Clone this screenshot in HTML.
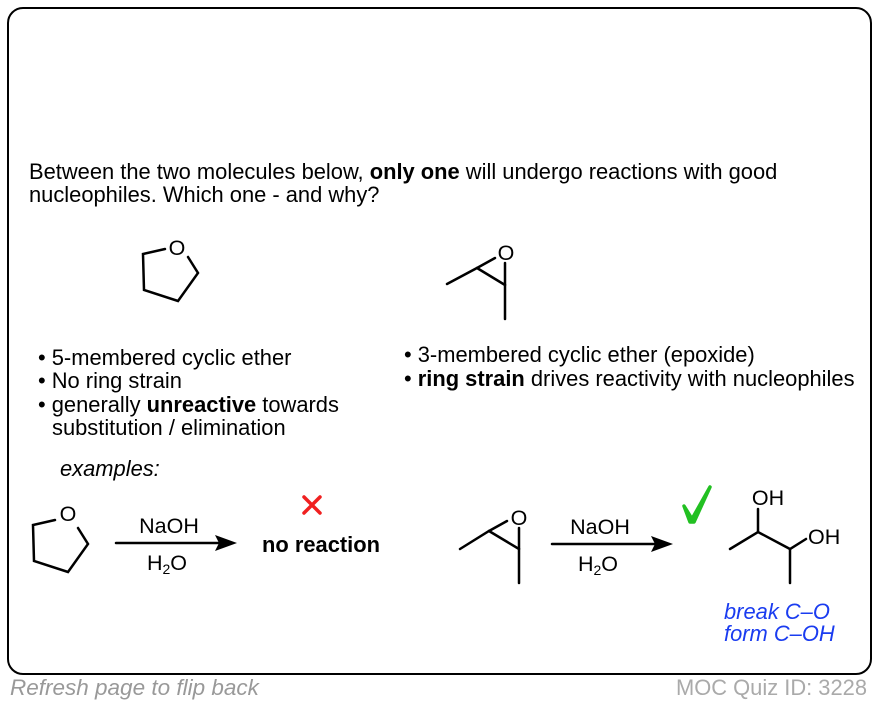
<!DOCTYPE html>
<html><head><meta charset="utf-8"><style>
body{margin:0;width:878px;height:704px;background:#fff;position:relative;font-family:"Liberation Sans",Arial,sans-serif;overflow:hidden}
.t{position:absolute;white-space:nowrap;font-size:21.9px;color:#000;line-height:23px}
.frame{position:absolute;left:7px;top:7px;width:861px;height:664px;border:2px solid #000;border-radius:16px}
</style></head><body>
<div class="frame"></div>
<div class="t" style="left:29px;top:160px">Between the two molecules below, <b>only one</b> will undergo reactions with good</div>
<div class="t" style="left:29px;top:183px">nucleophiles. Which one - and why?</div>
<div class="t" style="left:38px;top:346px">• 5-membered cyclic ether</div>
<div class="t" style="left:38px;top:369px">• No ring strain</div>
<div class="t" style="left:38px;top:393px">• generally <b>unreactive</b> towards</div>
<div class="t" style="left:52px;top:416px">substitution / elimination</div>
<div class="t" style="left:404px;top:343px">• 3-membered cyclic ether (epoxide)</div>
<div class="t" style="left:404px;top:367px">• <b>ring strain</b> drives reactivity with nucleophiles</div>
<div class="t" style="left:60px;top:457px;font-style:italic">examples:</div>
<div class="t" style="left:262px;top:533px;font-weight:bold">no reaction</div>
<div class="t" style="left:724px;top:600px;color:#1a3cf0;font-style:italic">break C–O</div>
<div class="t" style="left:724px;top:622px;color:#1a3cf0;font-style:italic">form C–OH</div>
<div class="t" style="left:10px;top:676px;color:#999;font-style:italic;font-size:22.5px">Refresh page to flip back</div>
<div class="t" style="right:11px;top:676px;color:#aaa">MOC Quiz ID: 3228</div>
<svg width="878" height="704" style="position:absolute;left:0;top:0" font-family="Liberation Sans, Arial, sans-serif" font-size="21.5">
<g stroke="#000" stroke-width="2.5" fill="none" stroke-linecap="round">
<polyline points="165,249 143,254 144,290 178,301 198,273 188,257"/>
<polyline points="447,284 477,268 505,285 505,319"/>
<line x1="477" y1="268" x2="495" y2="258"/><line x1="505" y1="285" x2="505" y2="263"/>
<polyline points="55,520 33,525 34,561 68,572 88,544 78,528"/>
<line x1="116" y1="543" x2="220" y2="543"/>
<polyline points="460,549 489,531 519,549 519,583"/>
<line x1="489" y1="531" x2="507" y2="521"/><line x1="519" y1="549" x2="519" y2="528"/>
<line x1="552" y1="544" x2="656" y2="544"/>
<polyline points="730,549 758,532 790,549 806,539"/>
<line x1="758" y1="532" x2="758" y2="509"/><line x1="790" y1="549" x2="790" y2="583"/>
</g>
<polygon points="237,543 215,535 219,543 215,551" fill="#000"/>
<polygon points="673,544 651,536 655,544 651,552" fill="#000"/>
<text x="177" y="255" text-anchor="middle">O</text>
<text x="506" y="260" text-anchor="middle">O</text>
<text x="68" y="521" text-anchor="middle">O</text>
<text x="519" y="525" text-anchor="middle">O</text>
<text x="768" y="505" text-anchor="middle">OH</text>
<text x="808" y="544">OH</text>
<text x="169" y="533" text-anchor="middle">NaOH</text>
<text x="167" y="570" text-anchor="middle">H<tspan font-size="14" dy="4">2</tspan><tspan dy="-4">O</tspan></text>
<text x="600" y="534" text-anchor="middle">NaOH</text>
<text x="598" y="571" text-anchor="middle">H<tspan font-size="14" dy="4">2</tspan><tspan dy="-4">O</tspan></text>
<g stroke="#f02020" stroke-width="3.5" stroke-linecap="round"><line x1="304" y1="497" x2="320" y2="513"/><line x1="320" y1="497" x2="304" y2="513"/></g>
<path d="M684,506 L692,519 L710,487 L694,522 L690,522 Z" fill="#22c022" stroke="#22c022" stroke-width="3.5" stroke-linejoin="round"/>
</svg>
</body></html>
